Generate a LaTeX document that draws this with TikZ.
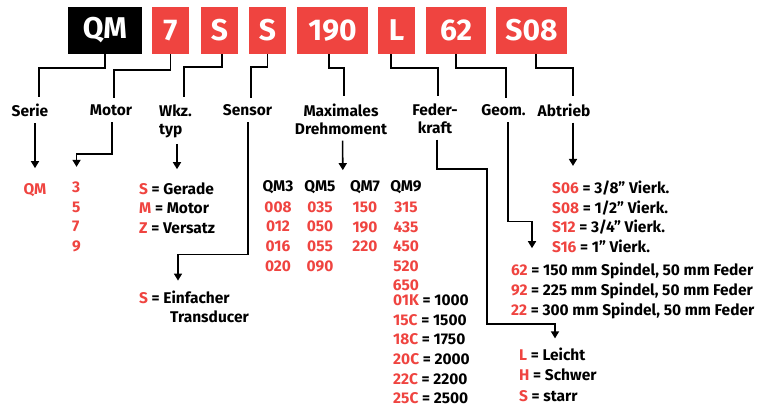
\documentclass[tikz,border=0pt]{standalone}
\usepackage{fontspec}
\setmainfont{Fira Sans}
\usetikzlibrary{arrows.meta,calc}
\definecolor{qred}{RGB}{239,68,64}
\newcommand{\kz}[1]{\textcolor{qred}{#1}}

\begin{document}
\begin{tikzpicture}[x=1pt,y=1pt,
	box/.style={fill=qred, text=white, font=\fontsize{30}{30}\selectfont\bfseries, minimum height=47pt, inner sep=0pt},
	lbl/.style={font=\fontsize{15.5}{18}\selectfont\bfseries, inner sep=0pt, align=center},
	col/.style={lbl, font=\fontsize{15.5}{19.6}\selectfont\bfseries, text=qred},
	val/.style={font=\fontsize{15.5}{19.6}\selectfont\bfseries, inner sep=0pt, align=left, anchor=west},
	conn/.style={line width=1.6pt, shorten >=7pt},
	arr/.style={line width=1.6pt, -{Triangle[length=7pt,width=8pt]}, shorten <=6pt}]

	\useasboundingbox (0,0) rectangle (776,-407);

	% code boxes
	\node[box, minimum width=74pt, fill=black] (qm) at (105,-30.5) {QM};
	\node[box, minimum width=37pt] (mot) at (170.5,-30.5) {7};
	\node[box, minimum width=37pt] (wkzb) at (219.5,-30.5) {S};
	\node[box, minimum width=37pt] (senb) at (267.5,-30.5) {S};
	\node[box, minimum width=71pt] (momb) at (332.5,-30.5) {190};
	\node[box, minimum width=37pt] (fedb) at (396.5,-30.5) {L};
	\node[box, minimum width=60pt] (geob) at (456,-30.5) {62};
	\node[box, minimum width=71pt] (abtb) at (531.5,-30.5) {S08};

	% labels
	\node[lbl] (serie) at (30,-110.5) {Serie};
	\node[lbl] (motor) at (111,-110.5) {Motor};
	\node[lbl, align=left, anchor=west] (wkz) at (159,-121) {Wkz.\\typ};
	\node[lbl] (sensor) at (247.5,-110.5) {Sensor};
	\node[lbl] (moment) at (341,-119) {Maximales\\Drehmoment};
	\node[lbl] (feder) at (435,-118.5) {Feder-\\kraft};
	\node[lbl] (geom) at (503.5,-110.5) {Geom.};
	\node[lbl] (abtrieb) at (564,-110) {Abtrieb};

	% values
	\node[val, anchor=center, text=qred] (vqm) at (35,-190) {QM};
	\node[val, text=qred] (mval) at (72,-217) {3\\5\\7\\9};
	\node[val] (wval) at (139,-208) {\kz{S} = Gerade\\\kz{M} = Motor\\\kz{Z} = Versatz};
	\node[val] (sval) at (139,-307) {\kz{S} = Einfacher\\\hspace*{31pt}Transducer};

	\node[lbl] (qm3) at (278,-187) {QM3};
	\node[lbl] (qm5) at (320,-187) {QM5};
	\node[lbl] (qm7) at (365,-187) {QM7};
	\node[lbl] (qm9) at (406,-187) {QM9};
	\node[col] (c3) at (278,-236.5) {008\\012\\016\\020};
	\node[col] (c5) at (320,-236.5) {035\\050\\055\\090};
	\node[col] (c7) at (365,-227) {150\\190\\220};
	\node[col] (c9) at (406,-246.5) {315\\435\\450\\520\\650};
	\node[val] (kval) at (393,-349.5) {\kz{01K} = 1000\\\kz{15C} = 1500\\\kz{18C} = 1750\\\kz{20C} = 2000\\\kz{22C} = 2200\\\kz{25C} = 2500};

	\node[val] (aval) at (552,-217) {\kz{S06} = 3/8” Vierk.\\\kz{S08} = 1/2” Vierk.\\\kz{S12} = 3/4” Vierk.\\\kz{S16} = 1” Vierk.};
	\node[val] (gval) at (511,-291) {\kz{62} = 150 mm Spindel, 50 mm Feder\\\kz{92} = 225 mm Spindel, 50 mm Feder\\\kz{22} = 300 mm Spindel, 50 mm Feder};
	\node[val, font=\fontsize{15.5}{20.5}\selectfont\bfseries] (fval) at (519,-374.5) {\kz{L} = Leicht\\\kz{H} = Schwer\\\kz{S} = starr};

	% boxes to labels
	\draw[conn] (qm.south) -- ++(0,-14) -| ([xshift=9pt]serie.north);
	\draw[conn] (mot.south) -- ++(0,-16) -| ([xshift=3pt]motor.north);
	\draw[conn] ([xshift=2.5pt]wkzb.south) -- ++(0,-13) -| ([xshift=25pt]wkz.north west);
	\draw[conn] (senb.south) -- ++(0,-13) -| ([xshift=3.5pt]sensor.north);
	\draw[conn] ([xshift=-3.5pt]momb.south) -- ++(0,-14) -| ([xshift=3pt]moment.north);
	\draw[conn] ([xshift=-5.5pt]fedb.south) -- ++(0,-14) -| ([xshift=3pt]feder.north);
	\draw[conn] (geob.south) -- ++(0,-14) -| ([xshift=2.5pt]geom.north);
	\draw[conn] ([xshift=4.5pt]abtb.south) -- ++(0,-14) -| ([xshift=9pt]abtrieb.north);

	% labels to values
	\draw[arr] ([xshift=5pt]serie.south) -- ([yshift=15pt]vqm.north);
	\draw[arr] ([xshift=1pt]motor.south) -- ++(0,-38) -| ([yshift=15pt]mval.north);
	\draw[arr] ([xshift=18pt]wkz.south west) -- ([xshift=38pt,yshift=13pt]wval.north west);
	\draw[arr] ([xshift=0.5pt]sensor.south) -- ++(0,-138) -| ([xshift=39pt,yshift=10pt]sval.north west);
	\draw[arr] ([xshift=1.5pt]moment.south) -- ($(qm5.north east)!0.5!(qm7.north west)+(0,10)$);
	\draw[arr] ([xshift=2pt]feder.south) -- ++(0,-35) -- ++(50,0) -- ++(0,-155) -| ([xshift=36pt,yshift=9pt]fval.north west);
	\draw[arr] ([xshift=4.5pt]geom.south) -- ++(0,-105) -| ([xshift=21pt,yshift=15pt]gval.north west);
	\draw[arr] ([xshift=9pt]abtrieb.south) -- ([xshift=21pt,yshift=15pt]aval.north west);
\end{tikzpicture}
\end{document}
